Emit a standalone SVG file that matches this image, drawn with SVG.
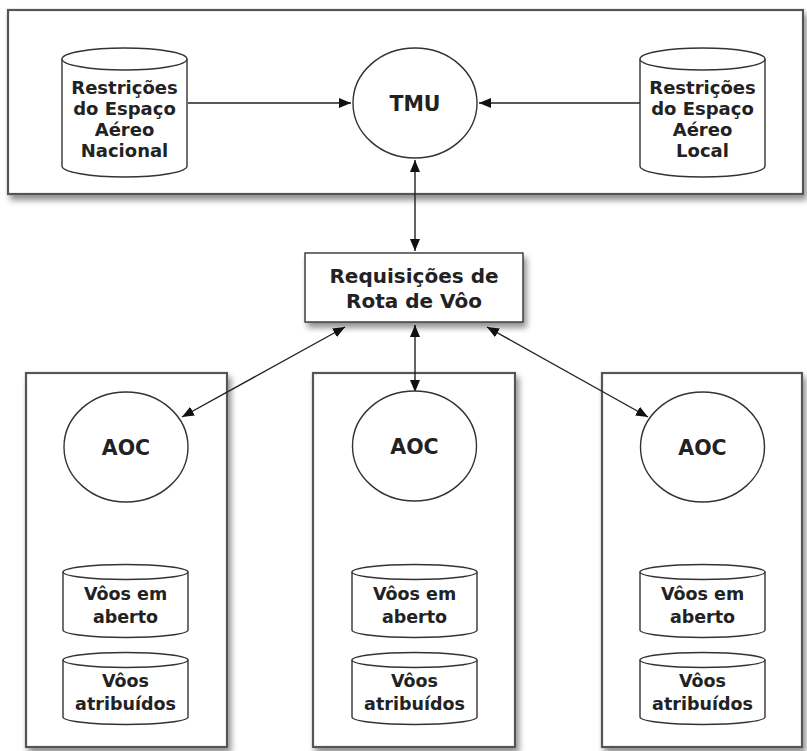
<svg xmlns="http://www.w3.org/2000/svg" width="807" height="751" viewBox="0 0 807 751">
  <defs>
    <filter id="shadow" x="-5%" y="-5%" width="115%" height="120%">
      <feGaussianBlur in="SourceAlpha" stdDeviation="3"/>
      <feOffset dx="3" dy="5" result="b"/>
      <feComponentTransfer><feFuncA type="linear" slope="0.45"/></feComponentTransfer>
      <feMerge><feMergeNode/><feMergeNode in="SourceGraphic"/></feMerge>
    </filter>
    <marker id="arrow" viewBox="0 0 12 10" refX="12" refY="5" markerWidth="12" markerHeight="10" markerUnits="userSpaceOnUse" orient="auto-start-reverse">
      <path d="M0,0 L12,5 L0,10 Z" fill="#111"/>
    </marker>
  </defs>
  <style>
    .frame { fill: #fff; stroke: #555; stroke-width: 2.2; }
    .shape { fill: #fff; stroke: #333; stroke-width: 1.4; }
    .edge { fill: none; stroke: #222; stroke-width: 1.4; }
    .cond { font-family: "DejaVu Sans", Verdana, sans-serif; font-weight: bold; font-size: 18px; fill: #222; text-anchor: middle; }
    .req { font-family: "DejaVu Sans", Verdana, sans-serif; font-weight: bold; font-size: 20px; fill: #222; text-anchor: middle; }
    .lbl { font-family: "DejaVu Sans", Verdana, sans-serif; font-weight: bold; font-size: 17.5px; fill: #222; text-anchor: middle; }
    .big { font-family: "DejaVu Sans", Verdana, sans-serif; font-weight: bold; font-size: 20.5px; fill: #222; text-anchor: middle; }
  </style>
  <rect width="807" height="751" fill="#fff"/>

  <!-- containers -->
  <g id="top-area">
    <rect class="frame" x="8" y="10" width="795" height="184" filter="url(#shadow)"/>
  </g>
  <g id="aoc-area-1">
    <rect class="frame" x="26" y="373" width="201" height="374" filter="url(#shadow)"/>
  </g>
  <g id="aoc-area-2">
    <rect class="frame" x="313" y="373" width="202" height="374" filter="url(#shadow)"/>
  </g>
  <g id="aoc-area-3">
    <rect class="frame" x="602" y="373" width="200" height="374" filter="url(#shadow)"/>
  </g>

  <!-- connectors -->
  <g id="connectors">
    <line class="edge" x1="188" y1="103" x2="351" y2="103" marker-end="url(#arrow)"/>
    <line class="edge" x1="640" y1="103" x2="479" y2="103" marker-end="url(#arrow)"/>
    <line class="edge" x1="415" y1="160" x2="415" y2="251" marker-start="url(#arrow)" marker-end="url(#arrow)"/>
    <line class="edge" x1="345" y1="327" x2="182" y2="417" marker-start="url(#arrow)" marker-end="url(#arrow)"/>
    <line class="edge" x1="415" y1="325" x2="415" y2="392" marker-start="url(#arrow)" marker-end="url(#arrow)"/>
    <line class="edge" x1="487" y1="327" x2="648" y2="417" marker-start="url(#arrow)" marker-end="url(#arrow)"/>
  </g>

  <!-- top nodes -->
  <g id="restricoes-nacional">
    <path class="shape" d="M62,59 A62.5,11 0 0 1 187,59 L187,166 A62.5,11 0 0 1 62,166 Z"/>
    <path class="shape" d="M62,59 A62.5,11 0 0 0 187,59"/>
    <text class="cond" x="124.5" y="94">Restrições</text>
    <text class="cond" x="124.5" y="115">do Espaço</text>
    <text class="cond" x="124.5" y="136">Aéreo</text>
    <text class="cond" x="124.5" y="157">Nacional</text>
  </g>
  <g id="tmu">
    <ellipse class="shape" cx="415" cy="103" rx="62" ry="55"/>
    <text class="big" x="415" y="111">TMU</text>
  </g>
  <g id="restricoes-local">
    <path class="shape" d="M640,59 A62.5,11 0 0 1 765,59 L765,166 A62.5,11 0 0 1 640,166 Z"/>
    <path class="shape" d="M640,59 A62.5,11 0 0 0 765,59"/>
    <text class="cond" x="702.5" y="94">Restrições</text>
    <text class="cond" x="702.5" y="115">do Espaço</text>
    <text class="cond" x="702.5" y="136">Aéreo</text>
    <text class="cond" x="702.5" y="157">Local</text>
  </g>

  <!-- request node -->
  <g id="requisicoes">
    <rect class="shape" x="305" y="253" width="218" height="69" stroke-width="1.8" filter="url(#shadow)"/>
    <text class="req" x="414" y="283">Requisições de</text>
    <text class="req" x="414" y="308">Rota de Vôo</text>
  </g>

  <!-- AOC 1 -->
  <g id="aoc-1">
    <ellipse class="shape" cx="126" cy="447" rx="62" ry="55"/>
    <text class="big" x="126" y="455">AOC</text>
  </g>
  <g id="voos-aberto-1">
    <path class="shape" d="M63,572 A62.5,7.5 0 0 1 188,572 L188,630 A62.5,7.5 0 0 1 63,630 Z"/>
    <path class="shape" d="M63,572 A62.5,7.5 0 0 0 188,572"/>
    <text class="lbl" x="125.5" y="600">Vôos em</text>
    <text class="lbl" x="125.5" y="623">aberto</text>
  </g>
  <g id="voos-atribuidos-1">
    <path class="shape" d="M63,660 A62.5,7.5 0 0 1 188,660 L188,717 A62.5,7.5 0 0 1 63,717 Z"/>
    <path class="shape" d="M63,660 A62.5,7.5 0 0 0 188,660"/>
    <text class="lbl" x="125.5" y="687">Vôos</text>
    <text class="lbl" x="125.5" y="710">atribuídos</text>
  </g>

  <!-- AOC 2 -->
  <g id="aoc-2">
    <ellipse class="shape" cx="414.5" cy="446" rx="62" ry="55"/>
    <text class="big" x="414.5" y="454">AOC</text>
  </g>
  <g id="voos-aberto-2">
    <path class="shape" d="M352,572 A62.5,7.5 0 0 1 477,572 L477,630 A62.5,7.5 0 0 1 352,630 Z"/>
    <path class="shape" d="M352,572 A62.5,7.5 0 0 0 477,572"/>
    <text class="lbl" x="414.5" y="600">Vôos em</text>
    <text class="lbl" x="414.5" y="623">aberto</text>
  </g>
  <g id="voos-atribuidos-2">
    <path class="shape" d="M352,660 A62.5,7.5 0 0 1 477,660 L477,717 A62.5,7.5 0 0 1 352,717 Z"/>
    <path class="shape" d="M352,660 A62.5,7.5 0 0 0 477,660"/>
    <text class="lbl" x="414.5" y="687">Vôos</text>
    <text class="lbl" x="414.5" y="710">atribuídos</text>
  </g>

  <!-- AOC 3 -->
  <g id="aoc-3">
    <ellipse class="shape" cx="702.5" cy="447" rx="62" ry="55"/>
    <text class="big" x="702.5" y="455">AOC</text>
  </g>
  <g id="voos-aberto-3">
    <path class="shape" d="M640,572 A62.5,7.5 0 0 1 765,572 L765,630 A62.5,7.5 0 0 1 640,630 Z"/>
    <path class="shape" d="M640,572 A62.5,7.5 0 0 0 765,572"/>
    <text class="lbl" x="702.5" y="600">Vôos em</text>
    <text class="lbl" x="702.5" y="623">aberto</text>
  </g>
  <g id="voos-atribuidos-3">
    <path class="shape" d="M640,660 A62.5,7.5 0 0 1 765,660 L765,717 A62.5,7.5 0 0 1 640,717 Z"/>
    <path class="shape" d="M640,660 A62.5,7.5 0 0 0 765,660"/>
    <text class="lbl" x="702.5" y="687">Vôos</text>
    <text class="lbl" x="702.5" y="710">atribuídos</text>
  </g>
</svg>
